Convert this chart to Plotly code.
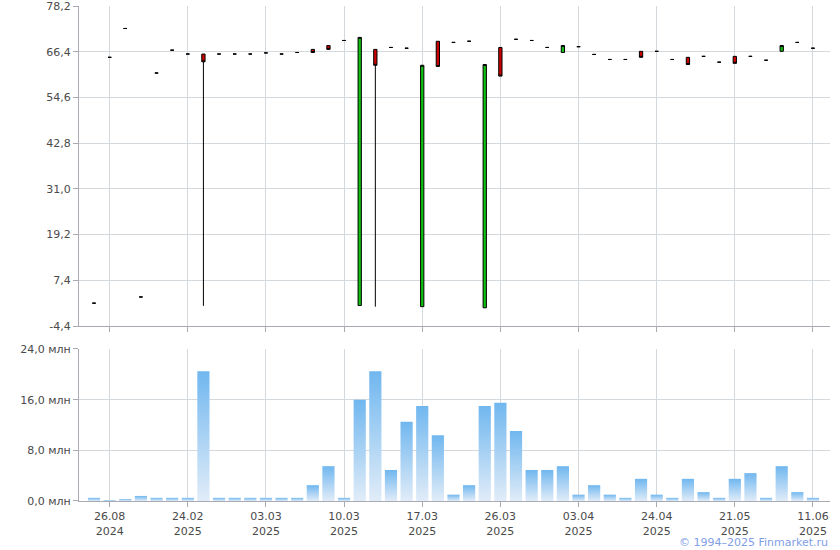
import plotly.graph_objects as go

# ---- data ----
opens = [1.5, 64.95, 72.4, 3.1, 60.9, 66.8, 65.8, 65.8, 65.8, 65.8,
         65.8, 66.1, 65.8, 66.2, 67.0, 68.0, 69.3, 0.9, 67.0, 67.5,
         67.3, 0.6, 69.1, 68.8, 69.1, 0.3, 67.5, 69.6, 69.3, 67.5,
         66.2, 67.7, 65.7, 64.4, 64.4, 66.5, 66.5, 64.4, 64.95, 65.2,
         63.7, 65.2, 65.2, 64.2, 66.5, 68.8, 67.3]
closes = [1.5, 64.95, 72.4, 3.1, 60.9, 66.8, 65.8, 63.8, 65.8, 65.8,
          65.8, 66.1, 65.8, 66.2, 66.2, 67.0, 69.3, 70.1, 62.9, 67.5,
          67.3, 62.9, 62.6, 68.8, 69.1, 63.1, 60.1, 69.6, 69.3, 67.5,
          68.0, 67.7, 65.7, 64.4, 64.4, 64.95, 66.5, 64.4, 63.1, 65.2,
          63.7, 63.4, 65.2, 64.2, 68.0, 68.8, 67.3]
highs = [1.5, 64.95, 72.4, 3.1, 60.9, 66.8, 65.8, 65.8, 65.8, 65.8,
         65.8, 66.1, 65.8, 66.2, 67.0, 68.0, 69.3, 70.1, 67.0, 67.5,
         67.3, 62.9, 69.1, 68.8, 69.1, 63.1, 67.5, 69.6, 69.3, 67.5,
         68.0, 67.7, 65.7, 64.4, 64.4, 66.5, 66.5, 64.4, 64.95, 65.2,
         63.7, 65.2, 65.2, 64.2, 68.0, 68.8, 67.3]
lows = [1.5, 64.95, 72.4, 3.1, 60.9, 66.8, 65.8, 0.8, 65.8, 65.8,
        65.8, 66.1, 65.8, 66.2, 66.2, 67.0, 69.3, 0.9, 0.6, 67.5,
        67.3, 0.6, 62.6, 68.8, 69.1, 0.3, 60.1, 69.6, 69.3, 67.5,
        66.2, 67.7, 65.7, 64.4, 64.4, 64.95, 66.5, 64.4, 63.1, 65.2,
        63.7, 63.4, 65.2, 64.2, 66.5, 68.8, 67.3]
volumes = [0.5, 0.15, 0.3, 0.8, 0.5, 0.5, 0.5, 20.5, 0.5, 0.5,
           0.5, 0.5, 0.5, 0.5, 2.5, 5.5, 0.5, 16.0, 20.5, 4.9,
           12.5, 15.0, 10.4, 1.0, 2.5, 15.0, 15.5, 11.05, 4.9, 4.9,
           5.5, 1.0, 2.5, 1.0, 0.5, 3.5, 1.0, 0.5, 3.5, 1.4,
           0.5, 3.5, 4.4, 0.5, 5.5, 1.4, 0.5]
tick_idx = [1, 6, 11, 16, 21, 26, 31, 36, 41, 46]
tick_labels = ["26.08<br>2024", "24.02<br>2025", "03.03<br>2025", "10.03<br>2025",
               "17.03<br>2025", "26.03<br>2025", "03.04<br>2025", "24.04<br>2025",
               "21.05<br>2025", "11.06<br>2025"]
price_ticks = [78.2, 66.4, 54.6, 42.8, 31.0, 19.2, 7.4, -4.4]
vol_ticks = [0, 8, 16, 24]

x = list(range(len(opens)))

GRID = "#d4d9dd"
AXIS = "#a9aab2"
TXT = "#4a4a4a"
FONT = "DejaVu Sans"

fig = go.Figure()
fig.add_trace(go.Candlestick(
    x=x, open=opens, high=highs, low=lows, close=closes,
    increasing=dict(fillcolor="#10c010", line=dict(color="#000000", width=1)),
    decreasing=dict(fillcolor="#cc0000", line=dict(color="#000000", width=1)),
    whiskerwidth=0, hoverinfo="skip", showlegend=False,
    xaxis="x", yaxis="y"))

half = 0.39
for i, v in enumerate(volumes):
    fig.add_trace(go.Scatter(
        x=[i - half, i + half, i + half, i - half, i - half],
        y=[0, 0, v, v, 0],
        mode="lines", line=dict(width=0), fill="toself",
        fillgradient=dict(type="vertical",
                          colorscale=[[0, "#e1ecf8"], [1, "#70b7ef"]]),
        hoverinfo="skip", showlegend=False, xaxis="x2", yaxis="y2"))

xr = [-0.96, 47.09]
fig.update_layout(
    width=840, height=550,
    margin=dict(l=79, r=10, t=6, b=49, autoexpand=False),
    paper_bgcolor="white", plot_bgcolor="white",
    font=dict(family=FONT, size=11, color=TXT),
    boxgap=0.7,
    xaxis=dict(domain=[0, 1], range=xr, anchor="y", tickvals=tick_idx,
               showticklabels=False, showgrid=True, gridcolor=GRID,
               ticks="outside", ticklen=5, tickcolor=AXIS, automargin=False,
               showline=True, linecolor=AXIS, zeroline=False,
               rangeslider=dict(visible=False)),
    yaxis=dict(domain=[0.3535, 1], range=[-4.4, 78.2], tickvals=price_ticks,
               ticktext=[f"{t:.1f}".replace(".", ",") for t in price_ticks],
               showgrid=True, gridcolor=GRID, ticks="outside", ticklen=5,
               tickcolor=AXIS, showline=True, linecolor=AXIS, zeroline=False,
               automargin=False, ticklabeloverflow="allow"),
    xaxis2=dict(domain=[0, 1], range=xr, anchor="y2", tickvals=tick_idx,
                ticktext=tick_labels, showgrid=True, gridcolor=GRID,
                ticks="outside", ticklen=5, tickcolor=AXIS, automargin=False,
                showline=True, linecolor=AXIS, zeroline=False,
                ticklabeloverflow="allow"),
    yaxis2=dict(domain=[0, 0.3071], range=[0, 24], tickvals=vol_ticks,
                ticktext=[f"{t:.1f}".replace(".", ",") + " млн" for t in vol_ticks],
                showgrid=True, gridcolor=GRID, ticks="outside", ticklen=5,
                tickcolor=AXIS, showline=True, linecolor=AXIS, zeroline=False,
                anchor="x2", automargin=False, ticklabeloverflow="allow"),
    annotations=[dict(text="© 1994–2025 Finmarket.ru", xref="paper", yref="paper",
                      x=1.0, y=-0.083, xanchor="right", yanchor="middle",
                      showarrow=False, font=dict(size=11, color="#7f9ee6", family=FONT))],
)

fig.write_html("out.html", config={"displayModeBar": False},
               post_script="document.body.style.margin='0';document.body.style.padding='0';")
